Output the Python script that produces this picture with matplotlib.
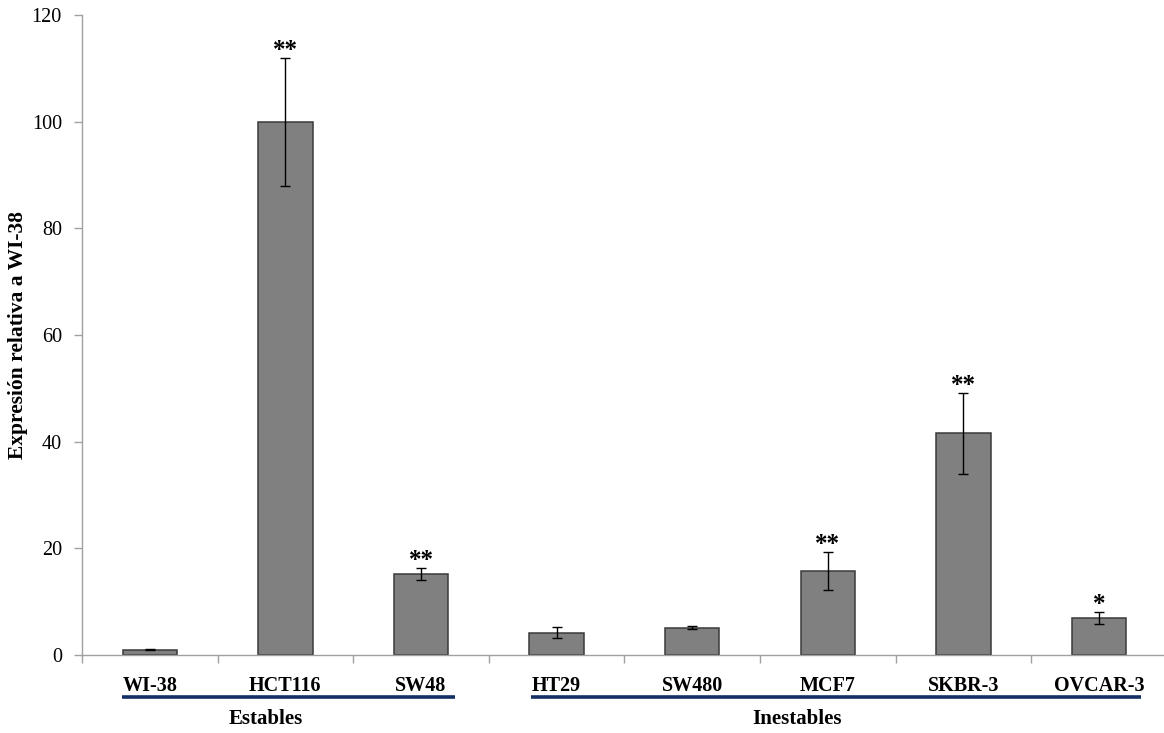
import matplotlib
matplotlib.use("Agg")
import matplotlib.pyplot as plt
from matplotlib.transforms import blended_transform_factory
import numpy as np

categories = ["WI-38", "HCT116", "SW48", "HT29", "SW480", "MCF7", "SKBR-3", "OVCAR-3"]
values = [1.0, 100.0, 15.2, 4.2, 5.1, 15.7, 41.6, 7.0]
errors = [0.15, 12.0, 1.1, 1.1, 0.3, 3.6, 7.6, 1.1]
stars = ["", "**", "**", "", "", "**", "**", "*"]
yticks = [0, 20, 40, 60, 80, 100, 120]
groups = ["Estables", "Inestables"]

plt.rcParams['font.family'] = ['Liberation Serif', 'DejaVu Serif']

W, H = 1164, 733
fig = plt.figure(figsize=(W / 100, H / 100), dpi=100)
ax_left, ax_right, ax_bottom, ax_top = 82, 1166.8, 655, 15
ax = fig.add_axes([ax_left / W, 1 - ax_bottom / H, (ax_right - ax_left) / W, (ax_bottom - ax_top) / H])
ax.patch.set_alpha(0)

x = np.arange(len(categories))
ax.bar(x, values, width=0.4, color='#808080', edgecolor='#3a3a3a', linewidth=1.1, zorder=2)
ax.errorbar(x, values, yerr=errors, fmt='none', ecolor='black', elinewidth=1.0,
            capsize=3.5, capthick=1.0, zorder=3)

for xi, v, e, s in zip(x, values, errors, stars):
    if s:
        ax.annotate(s, (xi, v + e), xytext=(0, -3), textcoords='offset points',
                    ha='center', va='bottom', fontsize=18, fontweight='bold', color='black')

ax.set_xlim(-0.5, len(categories) - 0.5)
ax.set_ylim(0, 120)
ax.set_yticks(yticks)
ax.set_yticklabels([str(t) for t in yticks], fontsize=14.5)

ax.set_xticks(np.arange(len(categories) + 1) - 0.5)
ax.set_xticklabels([])
ax.set_xticks(x, minor=True)
ax.set_xticklabels(categories, minor=True, fontsize=14.5, fontweight='bold')
ax.tick_params(axis='x', which='minor', length=0, pad=15)
ax.tick_params(axis='x', which='major', direction='out', length=6, color='#a0a0a0', width=1)
ax.tick_params(axis='y', direction='out', length=6, color='#a0a0a0', width=1, pad=8.5)

for sp in ['top', 'right']:
    ax.spines[sp].set_visible(False)
for sp in ['left', 'bottom']:
    ax.spines[sp].set_color('#a0a0a0')
    ax.spines[sp].set_linewidth(1)

ax.set_ylabel("Expresión relativa a WI-38", fontsize=15.5, fontweight='bold')
ax.yaxis.set_label_coords(-0.050, 0.5)

trans = blended_transform_factory(ax.transData, fig.transFigure)
line_y = 1 - 697 / H
lab_y = 1 - 719 / H
ax.plot([-0.205, 2.25], [line_y, line_y], transform=trans, color='#142f66', lw=2.6,
        solid_capstyle='butt', clip_on=False)
ax.plot([2.81, 7.31], [line_y, line_y], transform=trans, color='#142f66', lw=2.6,
        solid_capstyle='butt', clip_on=False)
ax.text(0.857, lab_y, groups[0], transform=trans, ha='center', va='center',
        fontsize=15, fontweight='bold')
ax.text(4.77, lab_y, groups[1], transform=trans, ha='center', va='center',
        fontsize=15, fontweight='bold')

fig.savefig("out.png", dpi=100)
